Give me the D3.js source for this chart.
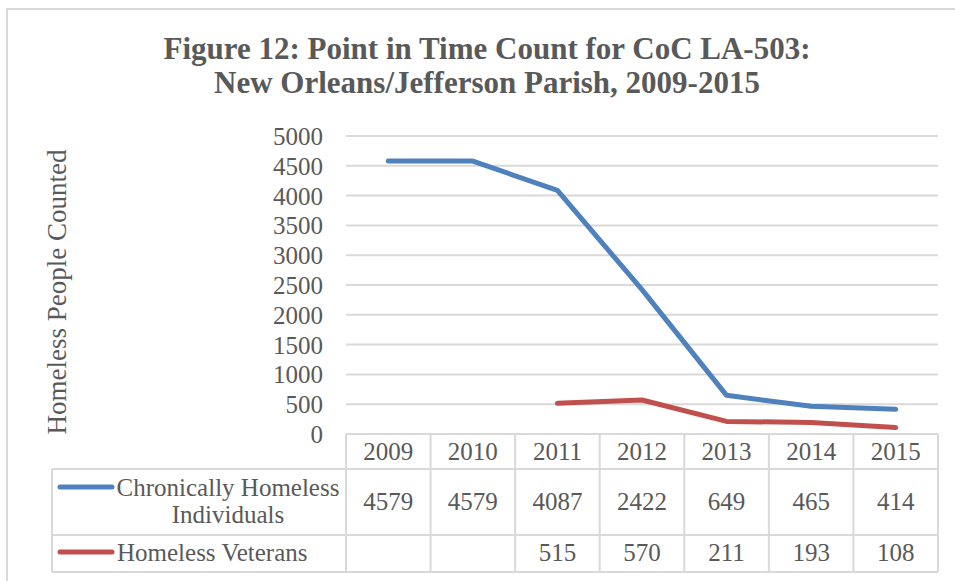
<!DOCTYPE html>
<html><head><meta charset="utf-8">
<script src="https://cdn.jsdelivr.net/npm/d3@7"></script>
<style>
html,body{margin:0;padding:0;background:#fff;}
svg{display:block;}
</style></head>
<body>
<script>
const titleLines = ["Figure 12: Point in Time Count for CoC LA-503:", "New Orleans/Jefferson Parish, 2009-2015"];
const years = ["2009","2010","2011","2012","2013","2014","2015"];
const chronic = [4579, 4579, 4087, 2422, 649, 465, 414];
const veterans = [null, null, 515, 570, 211, 193, 108];
const yTicks = [0,500,1000,1500,2000,2500,3000,3500,4000,4500,5000];
const seriesNames = [["Chronically Homeless","Individuals"], ["Homeless Veterans"]];
const seriesColors = ["#4F81BD", "#C0504D"];
const yTitle = "Homeless People Counted";

(function(){
const W = 955, H = 581;
const svg = d3.select("body").append("svg").attr("width", W).attr("height", H);
const gray = "#d9d9d9", txt = "#595959";
const serif = "'Liberation Serif', 'Times New Roman', serif";
const fs = 25;

// outer frame
svg.append("rect").attr("x", 7).attr("y", 9).attr("width", W + 20).attr("height", H + 20)
  .attr("fill", "none").attr("stroke", gray).attr("stroke-width", 2);

// title
svg.append("text").attr("x", 487).attr("y", 59).attr("text-anchor", "middle")
  .attr("font-family", serif).attr("font-weight", "bold").attr("font-size", 31).attr("fill", txt)
  .selectAll("tspan").data(titleLines).join("tspan")
  .attr("x", 487).attr("dy", (d, i) => i === 0 ? 0 : 34).text(d => d);

const pLeft = 346, pRight = 938, pTop = 136, pBottom = 434;
const x = d3.scaleBand().domain(years).range([pLeft, pRight]);
const y = d3.scaleLinear().domain([0, 5000]).range([pBottom, pTop]);

// gridlines
svg.append("g").selectAll("line").data(yTicks.filter(d => d > 0)).join("line")
  .attr("x1", pLeft).attr("x2", pRight).attr("y1", d => y(d)).attr("y2", d => y(d))
  .attr("stroke", gray).attr("stroke-width", 2);

// y axis labels
const yAxis = d3.axisLeft(y).tickValues(yTicks).tickSize(0).tickPadding(0).tickFormat(d3.format("d"));
const ya = svg.append("g").attr("transform", `translate(${pLeft - 23},0)`).call(yAxis);
ya.select(".domain").remove();
ya.selectAll("text").attr("font-family", serif).attr("font-size", fs).attr("fill", txt).attr("dy", "0.34em");

// y title
svg.append("text").attr("transform", `translate(66,292) rotate(-90)`).attr("text-anchor", "middle")
  .attr("font-family", serif).attr("font-size", 27).attr("fill", txt).text(yTitle);

// lines
const line = d3.line().defined(d => d != null).x((d, i) => x(years[i]) + x.bandwidth() / 2).y(d => y(d));
[chronic, veterans].forEach((s, k) => {
  svg.append("path").datum(s).attr("d", line).attr("fill", "none")
    .attr("stroke", seriesColors[k]).attr("stroke-width", 5)
    .attr("stroke-linecap", "round").attr("stroke-linejoin", "round");
});

// data table
const rowY = [434, 469, 535, 572];
const tableLeft = 52;
const tg = svg.append("g").attr("stroke", gray).attr("stroke-width", 2);
tg.append("line").attr("x1", pLeft).attr("x2", pRight).attr("y1", rowY[0]).attr("y2", rowY[0]);
[1, 2, 3].forEach(r => tg.append("line").attr("x1", tableLeft).attr("x2", pRight).attr("y1", rowY[r]).attr("y2", rowY[r]));
const colEdges = years.map(d => x(d)).concat([pRight]);
colEdges.forEach(cx => tg.append("line").attr("x1", cx).attr("x2", cx).attr("y1", rowY[0]).attr("y2", rowY[3]));
tg.append("line").attr("x1", tableLeft).attr("x2", tableLeft).attr("y1", rowY[1]).attr("y2", rowY[3]);

const cellText = svg.append("g").attr("font-family", serif).attr("font-size", fs).attr("fill", txt).attr("text-anchor", "middle");
years.forEach(yr => {
  const cx = x(yr) + x.bandwidth() / 2;
  cellText.append("text").attr("x", cx).attr("y", 460).text(yr);
});
[chronic, veterans].forEach((s, k) => {
  const by = k === 0 ? 510 : 561;
  s.forEach((v, i) => {
    if (v == null) return;
    cellText.append("text").attr("x", x(years[i]) + x.bandwidth() / 2).attr("y", by).text(v);
  });
});

// legend keys in table
const keyY = [487, 552];
const labelBase = [[496, 523], [561]];
seriesNames.forEach((names, k) => {
  svg.append("line").attr("x1", 60).attr("x2", 112).attr("y1", keyY[k]).attr("y2", keyY[k])
    .attr("stroke", seriesColors[k]).attr("stroke-width", 5).attr("stroke-linecap", "round");
  names.forEach((n, j) => {
    svg.append("text").attr("x", k === 0 ? 228 : 117).attr("y", labelBase[k][j])
      .attr("text-anchor", k === 0 ? "middle" : "start")
      .attr("font-family", serif).attr("font-size", fs).attr("fill", txt).text(n);
  });
});
})();
</script>
</body></html>
